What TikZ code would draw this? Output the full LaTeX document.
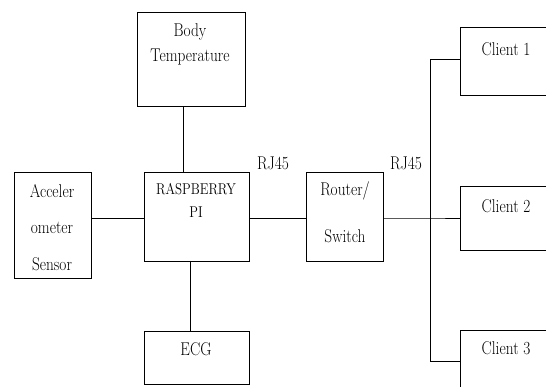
\documentclass[tikz,border=0pt]{standalone}
\newcommand{\tallbox}[1]{\scalebox{0.93}[1.12]{#1}}
\begin{document}
\begin{tikzpicture}[x=1pt,y=-1pt,
  box/.style={draw,line width=0.9pt,inner sep=0pt,outer sep=0pt,anchor=north west},
  lbl/.style={inner sep=0pt,font=\fontsize{16.5}{18}\selectfont},
  small/.style={inner sep=0pt,font=\fontsize{14}{16}\selectfont},
  wire/.style={line width=0.9pt}]
\useasboundingbox (0,0) rectangle (546,387);
% boxes
\node[box,minimum width=108.5pt,minimum height=94.4pt] (bt) at (137,12.3) {};
\node[box,minimum width=77pt,minimum height=106pt] (acc) at (14,172) {};
\node[box,minimum width=105pt,minimum height=89pt] (rpi) at (144,172) {};
\node[box,minimum width=77pt,minimum height=89pt] (rt) at (306.5,172) {};
\node[box,minimum width=104.5pt,minimum height=53pt] (ecg) at (144.5,331) {};
\node[box,minimum width=140pt,minimum height=67.7pt] (c1) at (460.7,27.3) {};
\node[box,minimum width=140pt,minimum height=64pt] (c2) at (460.7,186) {};
\node[box,minimum width=140pt,minimum height=90pt] (c3) at (460.7,330) {};
% texts
\node[lbl] (t1) at (190,32) {\tallbox{Body}};
\node[lbl] (t2) at (190,57) {\tallbox{Temperature}};
\node[lbl] (t3) at (52,191.5) {\tallbox{Acceler}};
\node[lbl] (t4) at (52,228) {\tallbox{ometer}};
\node[lbl] (t5) at (52,264) {\tallbox{Sensor}};
\node[small] (t6) at (196,189) {\tallbox{RASPBERRY}};
\node[small] (t7) at (196,212) {\tallbox{PI}};
\node[lbl] (t8) at (345,191) {\tallbox{Router/}};
\node[lbl] (t9) at (345,236) {\tallbox{Switch}};
\node[lbl] (t10) at (196,349) {\tallbox{ECG}};
\node[lbl] (t11) at (506,49) {\tallbox{Client 1}};
\node[lbl] (t12) at (506,206) {\tallbox{Client 2}};
\node[lbl] (t13) at (506,348) {\tallbox{Client 3}};
\node[lbl] (rj1) at (273,163) {\tallbox{RJ45}};
\node[lbl] (rj2) at (406,163) {\tallbox{RJ45}};
% helper coordinates
\coordinate (xa) at (183.5,0);
\coordinate (xb) at (190,0);
\coordinate (ym) at (0,218);
\coordinate (bus) at (430,218);
\coordinate (bustop) at (430,59);
\coordinate (busbot) at (430,361);
% connectors
\draw[wire] (bt.south -| xa) -- (rpi.north -| xa);
\draw[wire] (rpi.south -| xb) -- (ecg.north -| xb);
\draw[wire] (acc.east |- ym) -- (rpi.west |- ym);
\draw[wire] (rpi.east |- ym) -- (rt.west |- ym);
\draw[wire] (rt.east |- ym) -- (bus) -- (c2.west |- ym);
\draw[wire] (c1.west |- bustop) -- (bustop) -- (busbot) -- (c3.west |- busbot);
\end{tikzpicture}
\end{document}
